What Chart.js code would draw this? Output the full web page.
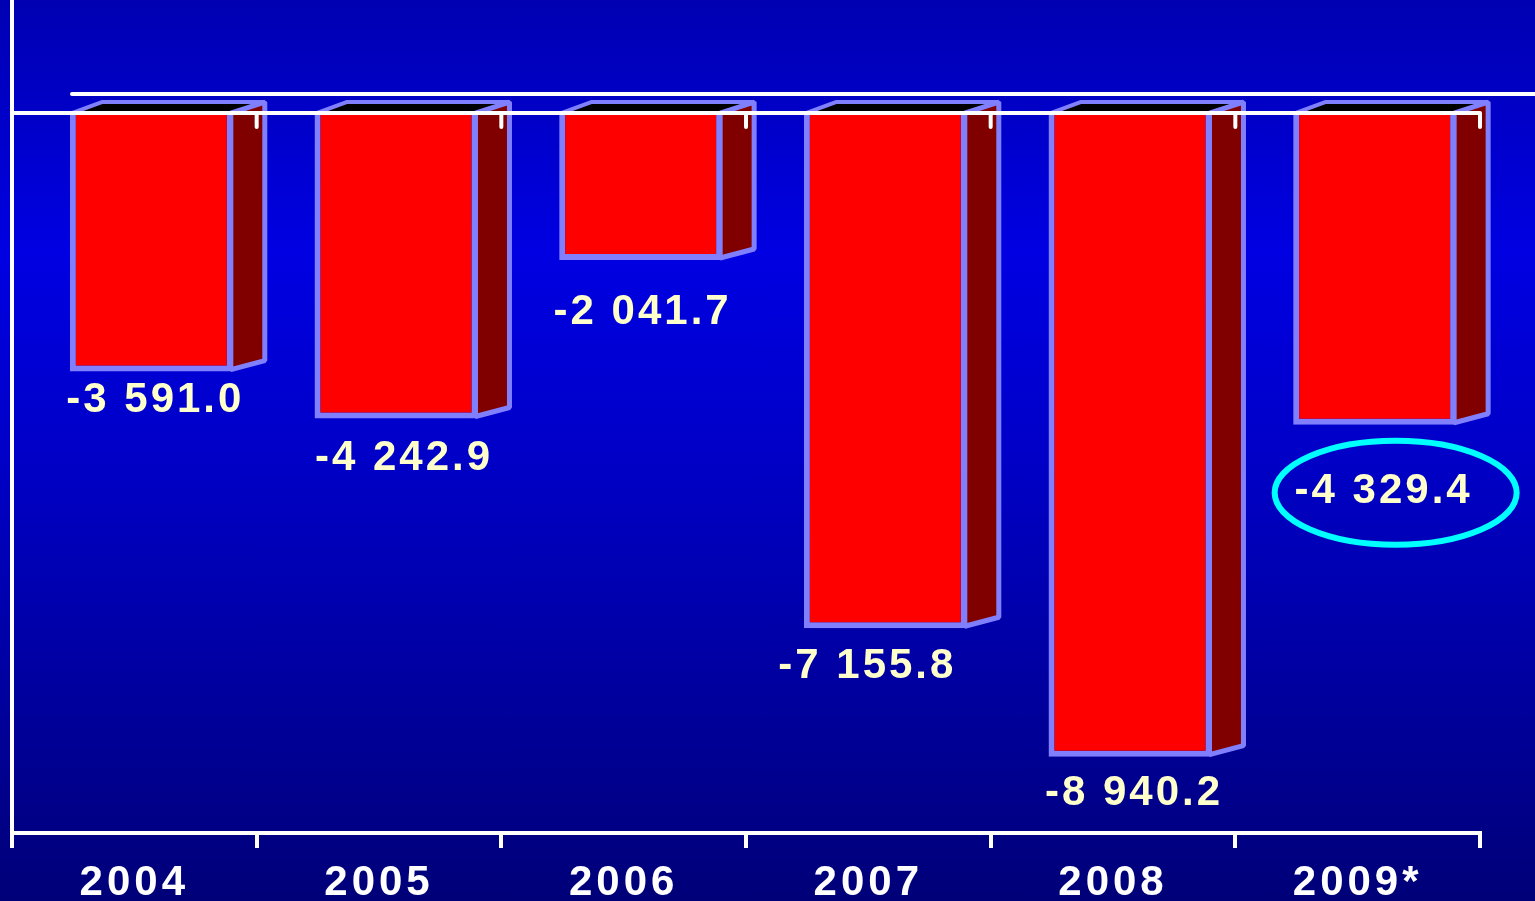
<!DOCTYPE html>
<html>
<head>
<meta charset="utf-8">
<script src="https://cdn.jsdelivr.net/npm/chart.js@4/dist/chart.umd.min.js"></script>
<style>
  html, body { margin: 0; padding: 0; overflow: hidden; }
  body {
    width: 1535px; height: 901px;
    background: linear-gradient(to bottom, #0000b2 0%, #0000e2 28%, #0000c8 50%, #0000a6 72%, #000078 100%);
  }
</style>
</head>
<body>
<canvas id="chart" width="1535" height="901"></canvas>
<script>
const years = ['2004', '2005', '2006', '2007', '2008', '2009*']
const balance = [-3591.0, -4242.9, -2041.7, -7155.8, -8940.2, -4329.4]
const highlighted = 5   // the estimate gets circled

// 3d look of the old slide
const depthX = 32
const depthY = 11
const shiftX = 17
const labelDrop = [29, 40, 52, 38, 37, 67]
const labelNudge = [4, 8, 2, -18, 4, 9]

const fmt = v => {
  const s = Math.abs(v).toFixed(1)
  const [int, dec] = s.split('.')
  const grouped = int.replace(/\B(?=(\d{3})+(?!\d))/g, ' ')
  return (v < 0 ? '-' : '') + grouped + '.' + dec
}

const bars3d = {
  id: 'bars3d',
  beforeDraw(chart) {
    chart.ctx.letterSpacing = '4px'
  },
  beforeDatasetsDraw(chart) {
    const ctx = chart.ctx
    const area = chart.chartArea
    const y0 = chart.scales.y.getPixelForValue(0)

    // back edge of the floor
    ctx.save()
    ctx.strokeStyle = '#ffffff'
    ctx.lineWidth = 4
    ctx.lineCap = 'round'
    ctx.beginPath()
    ctx.moveTo(area.left + 60, y0 - 19)
    ctx.lineTo(chart.width + 5, y0 - 19)
    ctx.stroke()
    ctx.restore()

    ctx.save()
    ctx.translate(shiftX, 0)
    chart.getDatasetMeta(0).data.forEach(bar => {
      const l = bar.x - bar.width / 2
      const r = bar.x + bar.width / 2
      const top = bar.base
      const bottom = bar.y
      ctx.strokeStyle = '#8080ff'
      ctx.lineJoin = 'bevel'

      ctx.lineWidth = 4
      ctx.beginPath()
      ctx.moveTo(l + 2, top)
      ctx.lineTo(l + depthX, top - depthY)
      ctx.lineTo(r + depthX, top - depthY)
      ctx.lineTo(r, top)
      ctx.closePath()
      ctx.fillStyle = '#000000'
      ctx.fill()
      ctx.stroke()

      ctx.lineWidth = 5
      ctx.beginPath()
      ctx.moveTo(r - 2, top)
      ctx.lineTo(r + depthX, top - depthY)
      ctx.lineTo(r + depthX, bottom - depthY)
      ctx.lineTo(r - 2, bottom - 2)
      ctx.closePath()
      ctx.fillStyle = '#800000'
      ctx.fill()
      ctx.stroke()
    })
  },
  afterDatasetsDraw(chart) {
    const ctx = chart.ctx
    ctx.restore()

    const area = chart.chartArea
    const y0 = chart.scales.y.getPixelForValue(0)
    const step = area.width / years.length

    ctx.save()
    ctx.strokeStyle = '#ffffff'
    ctx.lineWidth = 4
    ctx.lineCap = 'round'
    ctx.beginPath()
    ctx.moveTo(area.left, y0)
    ctx.lineTo(area.right, y0)
    for (let i = 1; i <= years.length; i++) {
      const x = area.left + i * step
      ctx.moveTo(x, y0)
      ctx.lineTo(x, y0 + 14)
    }
    ctx.stroke()

    ctx.font = 'bold 42px "Liberation Sans", Arial, sans-serif'
    ctx.fillStyle = '#ffffcc'
    ctx.textAlign = 'center'
    ctx.textBaseline = 'middle'
    ctx.letterSpacing = '3px'
    chart.getDatasetMeta(0).data.forEach((bar, i) => {
      const x = bar.x + shiftX + labelNudge[i]
      const y = bar.y + labelDrop[i]
      ctx.fillText(fmt(balance[i]), x, y)
      if (i === highlighted) {
        ctx.strokeStyle = '#00ffff'
        ctx.lineWidth = 6
        ctx.beginPath()
        ctx.ellipse(x + 12, y + 1, 121, 52, 0, 0, Math.PI * 2)
        ctx.stroke()
      }
    })
    ctx.restore()
  }
}

const chart = new Chart(document.getElementById('chart'), {
  type: 'bar',
  data: {
    labels: years,
    datasets: [{
      data: balance,
      backgroundColor: '#ff0000',
      borderColor: '#8080ff',
      borderWidth: 6,
      borderSkipped: 'start',
      barPercentage: 0.666,
      categoryPercentage: 1
    }]
  },
  options: {
    responsive: false,
    animation: false,
    devicePixelRatio: 1,
    layout: { padding: { left: 12, right: 55, top: 0, bottom: 0 } },
    plugins: {
      legend: { display: false },
      tooltip: { enabled: false }
    },
    scales: {
      x: {
        grid: { display: true, drawOnChartArea: false, offset: true, color: '#ffffff', lineWidth: 4, tickLength: 15 },
        border: { display: true, color: '#ffffff', width: 4 },
        ticks: {
          color: '#ffffff',
          font: { family: '"Liberation Sans", Arial, sans-serif', size: 42, weight: 'bold' },
          padding: 10,
          maxRotation: 0,
          autoSkip: false
        },
        afterFit(scale) { scale.height = 68 }
      },
      y: {
        min: -10000,
        max: 1570,
        grid: { display: false, drawTicks: false },
        ticks: { display: false },
        border: { display: true, color: '#ffffff', width: 4 }
      }
    }
  },
  plugins: [bars3d]
})
</script>
</body>
</html>
